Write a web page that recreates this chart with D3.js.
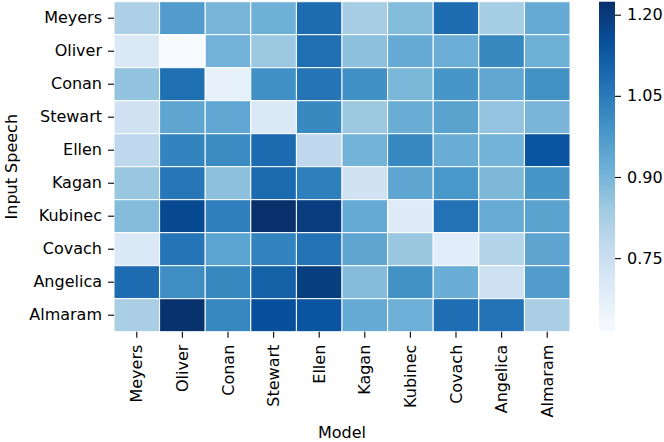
<!DOCTYPE html>
<html>
<head>
<meta charset="utf-8">
<script src="https://cdn.jsdelivr.net/npm/d3@7"></script>
<style>
  body { margin: 0; background: #fff; }
  text { font-family: "DejaVu Sans", sans-serif; fill: #000; }
</style>
</head>
<body>
<div id="chart"></div>
<script>
// Rows: input speech, columns: model
const rowNames = ['Meyers', 'Oliver', 'Conan', 'Stewart', 'Ellen', 'Kagan', 'Kubinec', 'Covach', 'Angelica', 'Almaram'];
const colNames = ['Meyers', 'Oliver', 'Conan', 'Stewart', 'Ellen', 'Kagan', 'Kubinec', 'Covach', 'Angelica', 'Almaram'];

const values = [
    [0.815, 0.968, 0.900, 0.913, 1.084, 0.828, 0.882, 1.080, 0.830, 0.930],
    [0.700, 0.614, 0.907, 0.845, 1.077, 0.870, 0.930, 0.918, 1.017, 0.913],
    [0.860, 1.077, 0.665, 0.997, 1.065, 0.997, 0.895, 0.985, 0.937, 0.994],
    [0.735, 0.944, 0.940, 0.700, 1.016, 0.846, 0.920, 0.950, 0.858, 0.900],
    [0.780, 1.030, 1.010, 1.086, 0.780, 0.906, 1.018, 0.920, 0.905, 1.140],
    [0.850, 1.060, 0.870, 1.090, 1.040, 0.730, 0.943, 0.980, 0.890, 0.985],
    [0.880, 1.163, 1.040, 1.224, 1.193, 0.930, 0.690, 1.070, 0.926, 0.950],
    [0.700, 1.065, 0.948, 1.030, 1.067, 0.943, 0.850, 0.680, 0.800, 0.945],
    [1.080, 1.005, 1.017, 1.110, 1.190, 0.880, 0.995, 0.920, 0.740, 0.968],
    [0.820, 1.220, 1.020, 1.150, 1.140, 0.930, 0.915, 1.078, 1.070, 0.820]
];

const colorTicks = [0.75, 0.90, 1.05, 1.20];

// matplotlib "Blues"
const bluesStops = ['#f7fbff', '#deebf7', '#c6dbef', '#9ecae1', '#6baed6', '#4292c6', '#2171b5', '#08519c', '#08306b'];
const blues = d3.piecewise(d3.interpolateRgb, bluesStops);

const W = 664, H = 442;
const hm = { left: 114, right: 570, top: 1.7, bottom: 331.7 };
const cb = { left: 599, right: 615 };

const vmin = d3.min(values.flat());
const vmax = d3.max(values.flat());
const color = v => blues((v - vmin) / (vmax - vmin));

const svg = d3.select('#chart').append('svg')
    .attr('width', W)
    .attr('height', H);

const x = d3.scaleBand().domain(colNames.map((d, i) => i)).range([hm.left, hm.right]);
const y = d3.scaleBand().domain(rowNames.map((d, i) => i)).range([hm.top, hm.bottom]);

// Cells
const cells = [];
values.forEach((row, r) => row.forEach((v, c) => cells.push({ r, c, v })));

svg.append('g').attr('class', 'cells')
    .selectAll('rect')
    .data(cells)
    .enter()
    .append('rect')
    .attr('x', d => x(d.c))
    .attr('y', d => y(d.r))
    .attr('width', x.bandwidth())
    .attr('height', y.bandwidth())
    .attr('fill', d => color(d.v))
    .attr('stroke', '#fff')
    .attr('stroke-width', 1);

// Axes
const xAxis = svg.append('g')
    .attr('transform', `translate(0,${hm.bottom})`)
    .call(d3.axisBottom(x).tickSize(6).tickPadding(7).tickFormat(i => colNames[i]));
xAxis.select('.domain').remove();
xAxis.selectAll('.tick line').attr('stroke', '#000').attr('stroke-width', 1.1);
xAxis.selectAll('.tick text')
    .attr('font-size', 16)
    .attr('transform', 'rotate(-90)')
    .attr('x', -13)
    .attr('y', 0)
    .attr('dy', '0.35em')
    .attr('text-anchor', 'end');

const yAxis = svg.append('g')
    .attr('transform', `translate(${hm.left},0)`)
    .call(d3.axisLeft(y).tickSize(6).tickPadding(6).tickFormat(i => rowNames[i]));
yAxis.select('.domain').remove();
yAxis.selectAll('.tick line').attr('stroke', '#000').attr('stroke-width', 1.1);
yAxis.selectAll('.tick text').attr('font-size', 16);

// Axis titles
svg.append('text')
    .attr('x', (hm.left + hm.right) / 2)
    .attr('y', 438)
    .attr('text-anchor', 'middle')
    .attr('font-size', 16)
    .text('Model');

svg.append('text')
    .attr('transform', `translate(17,${(hm.top + hm.bottom) / 2}) rotate(-90)`)
    .attr('text-anchor', 'middle')
    .attr('font-size', 16)
    .text('Input Speech');

// Colorbar
const defs = svg.append('defs');
const grad = defs.append('linearGradient')
    .attr('id', 'cbar')
    .attr('x1', 0).attr('y1', 1).attr('x2', 0).attr('y2', 0);
d3.range(0, 1.0001, 0.02).forEach(t => {
    grad.append('stop').attr('offset', t).attr('stop-color', blues(t));
});

const cy = d3.scaleLinear().domain([vmin, vmax]).range([hm.bottom, hm.top]);

svg.append('rect')
    .attr('x', cb.left)
    .attr('y', hm.top)
    .attr('width', cb.right - cb.left)
    .attr('height', hm.bottom - hm.top)
    .attr('fill', 'url(#cbar)');

const cAxis = svg.append('g')
    .attr('transform', `translate(${cb.right},0)`)
    .call(d3.axisRight(cy).tickValues(colorTicks).tickSize(6).tickPadding(6).tickFormat(d3.format('.2f')));
cAxis.select('.domain').remove();
cAxis.selectAll('.tick line').attr('stroke', '#000').attr('stroke-width', 1.1);
cAxis.selectAll('.tick text').attr('font-size', 16);
</script>
</body>
</html>
